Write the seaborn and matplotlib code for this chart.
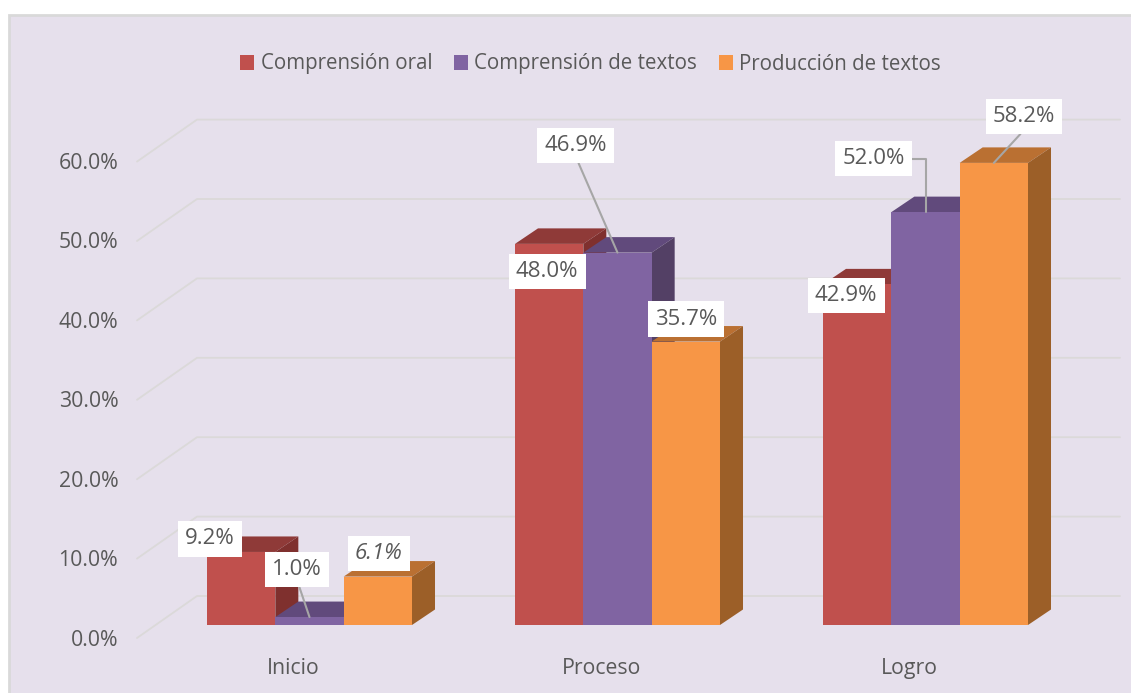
"""3D style clustered bars for reading levels"""

import pandas as pd
import seaborn as sns
import matplotlib.pyplot as plt
from matplotlib.patches import Polygon, Rectangle
from matplotlib.transforms import ScaledTranslation

categories = ["Inicio", "Proceso", "Logro"]
series_names = ["Comprensión oral", "Comprensión de textos", "Producción de textos"]
oral = [9.2, 48.0, 42.9]
textos = [1.0, 46.9, 52.0]
produccion = [6.1, 35.7, 58.2]
y_ticks = [0, 10, 20, 30, 40, 50, 60]

front_colors = ["#C0504D", "#8064A2", "#F79646"]
top_colors = ["#8F3A38", "#614A7C", "#BA7032"]
side_colors = ["#7F302E", "#534065", "#9C5F28"]
text_color = "#595959"

# label centre relative to the bar top, in pixels, and where the leader leaves the box
label_offsets = {
    (0, 0): (-31, 13, None),
    (0, 1): (-12.5, 47.5, (0.5, 0)),
    (0, 2): (1, 23, None),
    (1, 0): (-2, -28, None),
    (1, 1): (-42, 107, (0.5, 0)),
    (1, 2): (0, 22.5, None),
    (2, 0): (-11, -11, None),
    (2, 1): (-52, 53.5, (1, 0.5)),
    (2, 2): (30, 46.5, (0.55, 0)),
}

W, H = 1131, 693
PX_PER_UNIT = 7.94
GROUP_PX = 308
AX_LEFT, AX_RIGHT, AX_BOTTOM, AX_TOP = 137, 1120, 625, 100

sns.set_theme(style="white")
plt.rcParams["font.family"] = ["Open Sans", "DejaVu Sans"]
FONT_SIZE = 15.3

fig = plt.figure(figsize=(W / 100, H / 100), dpi=100, facecolor="white")
fig.add_artist(
    Rectangle(
        (9 / W, -0.01),
        1.01,
        1.01 - 15 / H,
        transform=fig.transFigure,
        facecolor="#E6E0EC",
        edgecolor="#D9D9D9",
        linewidth=2,
        zorder=-1,
    )
)
ax = fig.add_axes(
    [
        AX_LEFT / W,
        1 - AX_BOTTOM / H,
        (AX_RIGHT - AX_LEFT) / W,
        (AX_BOTTOM - AX_TOP) / H,
    ]
)
ax.patch.set_alpha(0)

data = pd.DataFrame(
    {
        "categoria": categories * 3,
        "serie": [s for s in series_names for _ in categories],
        "valor": oral + textos + produccion,
    }
)

sns.barplot(
    data=data,
    x="categoria",
    y="valor",
    hue="serie",
    palette=front_colors,
    saturation=1,
    width=0.6656,
    gap=0,
    linewidth=0,
    ax=ax,
)

ax.set_xlim((AX_LEFT - 309.5) / GROUP_PX, (AX_RIGHT - 309.5) / GROUP_PX)
ax.set_ylim(0, (AX_BOTTOM - AX_TOP) / PX_PER_UNIT)
ax.set_xlabel("")
ax.set_ylabel("")
sns.despine(ax=ax, left=True, bottom=True)

# floor and back wall lines
x_unit = GROUP_PX / 1.0
x_min = ax.get_xlim()[0]
for t in y_ticks:
    front_y = t - 13 / PX_PER_UNIT
    back_y = t + 29 / PX_PER_UNIT
    ax.plot(
        [x_min, x_min + 60 / x_unit, ax.get_xlim()[1]],
        [front_y, back_y, back_y],
        color="#DBD9D9",
        linewidth=1.3,
        clip_on=False,
        zorder=1,
    )

# extrude each bar back and to the right, left to right so later bars cover earlier sides
depth_x = 23 / x_unit
depth_y = 15.5 / PX_PER_UNIT
for c_idx in range(len(categories)):
    for s_idx, container in enumerate(ax.containers):
        bar = container.patches[c_idx]
        x0, w, h = bar.get_x(), bar.get_width(), bar.get_height()
        z = 3 + c_idx * 10 + s_idx * 2
        top = [(x0, h), (x0 + w, h), (x0 + w + depth_x, h + depth_y), (x0 + depth_x, h + depth_y)]
        side = [
            (x0 + w, 0),
            (x0 + w + depth_x, depth_y),
            (x0 + w + depth_x, h + depth_y),
            (x0 + w, h),
        ]
        ax.add_patch(Polygon(top, facecolor=top_colors[s_idx], edgecolor="none", zorder=z, clip_on=False))
        ax.add_patch(Polygon(side, facecolor=side_colors[s_idx], edgecolor="none", zorder=z, clip_on=False))
        bar.set_zorder(z + 1)

# data labels
for s_idx, container in enumerate(ax.containers):
    for c_idx, bar in enumerate(container.patches):
        dx, dy, relpos = label_offsets[(c_idx, s_idx)]
        arrow = None
        if relpos is not None:
            arrow = dict(
                arrowstyle="-",
                color="#A6A6A6",
                linewidth=1.5,
                relpos=relpos,
                shrinkA=0,
                shrinkB=0,
            )
            if (c_idx, s_idx) == (2, 1):
                arrow["connectionstyle"] = "angle,angleA=0,angleB=90,rad=0"
        ax.annotate(
            f"{bar.get_height():.1f}%",
            xy=(bar.get_x() + bar.get_width() / 2, bar.get_height()),
            xytext=(dx, dy),
            textcoords="offset pixels",
            ha="center",
            va="center",
            fontsize=16,
            color=text_color,
            fontstyle="italic" if (c_idx, s_idx) == (0, 2) else "normal",
            bbox=dict(boxstyle="square,pad=0.32", facecolor="white", edgecolor="none"),
            arrowprops=arrow,
            zorder=60,
            annotation_clip=False,
        )

# axis labels sit on the front edge of the floor, below the bar base
ax.set_yticks(y_ticks)
ax.set_yticklabels([f"{t:.1f}%" for t in y_ticks])
ax.tick_params(axis="y", length=0, pad=13.5, labelsize=FONT_SIZE, labelcolor=text_color)
ax.tick_params(axis="x", length=0, pad=23.5, labelsize=FONT_SIZE, labelcolor=text_color)
for label in ax.get_yticklabels():
    label.set_verticalalignment("center")
    label.set_transform(
        label.get_transform() + ScaledTranslation(0, -15 / 100, fig.dpi_scale_trans)
    )
for label in ax.get_xticklabels():
    label.set_transform(
        label.get_transform() + ScaledTranslation(-16 / 100, 0, fig.dpi_scale_trans)
    )

handles, labels = ax.get_legend_handles_labels()
ax.legend(
    handles,
    labels,
    ncol=3,
    frameon=False,
    loc="center",
    bbox_to_anchor=(590.5 / W, 1 - 64 / H),
    bbox_transform=fig.transFigure,
    fontsize=14.8,
    labelcolor=text_color,
    handlelength=0.7,
    handleheight=0.7,
    handletextpad=0.3,
    columnspacing=1.05,
)

fig.savefig("out.png", dpi=100)
